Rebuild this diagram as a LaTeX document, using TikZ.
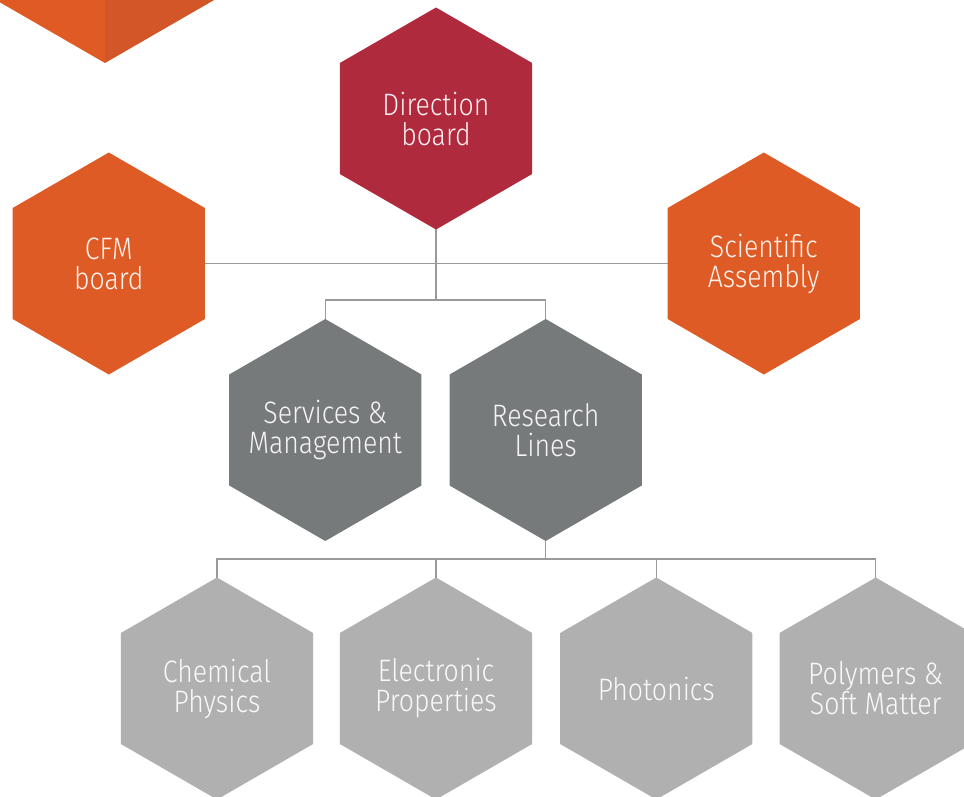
\documentclass[tikz,border=0pt]{standalone}
\usepackage{fontspec}
\setmainfont{Fira Sans Light}[FakeStretch=0.86]
\usetikzlibrary{backgrounds}
\definecolor{cfmorange}{HTML}{DF5B25}
\definecolor{cornerlight}{HTML}{E05A24}
\definecolor{cornerdark}{HTML}{D35629}
\definecolor{dirred}{HTML}{AF2A3D}
\definecolor{midgray}{HTML}{777A7B}
\definecolor{lightgray}{HTML}{B0B0B0}
\definecolor{linegray}{HTML}{9A9A9A}
\tikzset{
  hexnode/.style={circle, minimum size=222pt, inner sep=0pt, align=center,
    text=white, text opacity=0.93, font=\fontsize{31}{30}\selectfont,
    path picture={\fill[#1] (path picture bounding box.center)
      +(90:111pt) -- +(30:111pt) -- +(-30:111pt) -- +(-90:111pt)
      -- +(-150:111pt) -- +(150:111pt) -- cycle;}},
  link/.style={draw=linegray, line width=1.4pt}
}
\begin{document}
\begin{tikzpicture}[x=1pt,y=-1pt]
\useasboundingbox (0,0) rectangle (964,797);
\begin{scope}
\clip (0,0) rectangle (964,797);
% decorative corner hexagon
\fill[cornerlight] (105,-67) +(90:130pt) -- +(-90:130pt) -- +(-150:130pt) -- +(150:130pt) -- cycle;
\fill[cornerdark] (105,-67) +(90:130pt) -- +(30:130pt) -- +(-30:130pt) -- +(-90:130pt) -- cycle;

\node[hexnode=dirred] (dir) at (436,118.5) {Direction\\board};
\node[hexnode=cfmorange] (cfm) at (108.8,263.5) {CFM\\board};
\node[hexnode=cfmorange] (sci) at (763.8,263.5) {Scientific\\Assembly};
\node[hexnode=midgray] (srv) at (325.3,430) {Services \&\\Management};
\node[hexnode=midgray] (res) at (545.7,430) {Research\\Lines};
\node[hexnode=lightgray] (chem) at (217,688.5) {Chemical\\Physics};
\node[hexnode=lightgray] (elec) at (436,688.5) {Electronic\\Properties};
\node[hexnode=lightgray] (phot) at (656.3,688.5) {Photonics};
\node[hexnode=lightgray] (poly) at (875.7,688.5) {Polymers \&\\Soft Matter};

\coordinate (j1) at (436,300);
\coordinate (j2) at (545.7,559);

\begin{scope}[on background layer]
\fill[white] (0,0) rectangle (964,797);
\draw[link] (cfm.center) -- (sci.center);
\draw[link] (dir.center) -- (j1);
\draw[link] (srv.center) |- (j1) -| (res.center);
\draw[link] (res.center) -- (j2);
\draw[link] (chem.center) |- (j2) -| (poly.center);
\draw[link] (elec.center) -- (elec.center |- j2);
\draw[link] (phot.center) -- (phot.center |- j2);
\end{scope}
\end{scope}
\end{tikzpicture}
\end{document}
